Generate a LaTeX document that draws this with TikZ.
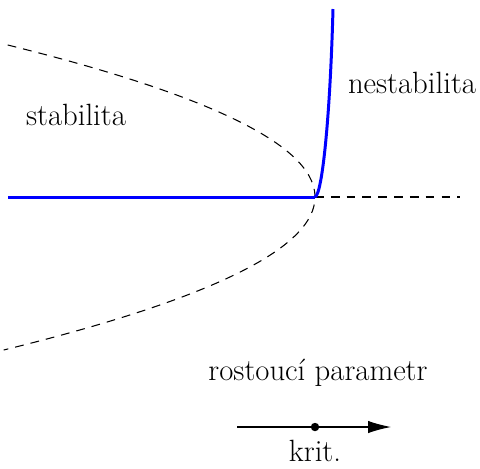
\documentclass[tikz,border=0pt]{standalone}
\usepackage{tikz}
\usetikzlibrary{arrows.meta, positioning}

\begin{document}
\begin{tikzpicture}[
    x=0.02cm, y=-0.02cm,
    lbl/.style={font=\fontsize{17.5}{21}\selectfont},
    branch/.style={dash pattern=on 5pt off 4pt, line width=0.6pt},
    stable/.style={blue, line width=1.7pt}
]
    \useasboundingbox (0,0) rectangle (480,468);

    \coordinate (bif) at (315,197);
    \coordinate (left) at (8,197);
    \coordinate (right) at (460,197);
    \coordinate (top) at (333,9);

    % unstable branches
    \draw[branch] plot[domain=-15.2:15.3, samples=80, smooth] ({315-1.33*(\x)^2},{197+10*\x});
    \draw[branch] (bif) -- (right);

    % stable branches
    \draw[stable] (left) -- (bif);
    \draw[stable] (bif) .. controls (322,195) and (330,120) .. (top);

    \node[lbl] (stab) at (76,115) {stabilita};
    \node[lbl] (nestab) at (412,83) {nestabilita};
    \node[lbl] (param) at (318,373) {rostoucí parametr};

    % parameter axis
    \coordinate (a0) at (237,427);
    \coordinate (a1) at (391,427);
    \draw[-{Latex[length=13pt,width=7pt]}, line width=0.6pt] (a0) -- (a1);
    \fill (315,427) circle (2.4pt) coordinate (crit);
    \node[lbl, inner sep=0pt, below=7pt of crit] (krit) {krit.};
\end{tikzpicture}
\end{document}
